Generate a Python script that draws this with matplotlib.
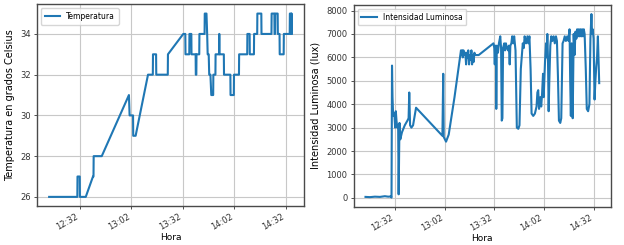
import numpy as np
import pandas as pd
import matplotlib
matplotlib.use("Agg")
import matplotlib.pyplot as plt
import matplotlib.dates as mdates

# ---- data (minutes after 12:00) ----
temp_minutes = [14.2, 30.6, 30.7, 32.0, 32.1, 35.5, 39.7, 40.0, 40.1, 44.8,
                60.6, 61.0, 63.0, 63.1, 64.5, 71.7, 74.5, 74.6, 76.4, 76.5,
                83.2, 83.3, 92.2, 93.4, 93.5, 95.7, 95.8, 96.9, 97.0, 99.4,
                99.5, 99.8, 99.9, 101.5, 101.6, 104.6, 104.7, 105.7, 106.1, 106.4,
                107.0, 107.3, 108.0, 108.5, 108.6, 109.6, 109.7, 110.9, 111.0, 113.0,
                113.1, 113.2, 113.3, 115.8, 115.9, 119.6, 119.7, 121.6, 121.7, 124.6,
                124.7, 129.4, 129.5, 130.8, 130.9, 133.3, 133.4, 135.2, 135.3, 137.6,
                137.7, 143.5, 143.6, 145.2, 145.3, 145.6, 145.7, 147.1, 147.2, 148.2,
                148.3, 150.6, 150.7, 154.1, 154.2, 154.9, 155.0, 155.2, 155.3]
temp_values = [26, 26, 27, 27, 26, 26, 27, 27, 28, 28,
               31, 30, 30, 29, 29, 32, 32, 33, 33, 32,
               32, 33, 34, 34, 33, 33, 34, 34, 33, 33,
               32, 32, 33, 33, 34, 34, 35, 35, 34, 33,
               33, 32, 32, 31, 31, 31, 32, 32, 33, 33,
               34, 34, 33, 33, 32, 32, 31, 31, 32, 32,
               33, 33, 34, 34, 33, 33, 34, 34, 35, 35,
               34, 34, 35, 35, 34, 34, 35, 35, 34, 34,
               33, 33, 34, 34, 35, 35, 34, 35, 34]

lux_minutes = [14.3, 17, 20, 23, 26, 28, 29.6, 30.0, 30.3, 30.6,
               30.9, 31.3, 31.7, 32.2, 32.6, 33.0, 33.5, 34.0, 34.3, 34.8,
               35.3, 36.3, 38.0, 39.6, 40.3, 40.7, 41.2, 42.0, 43.0, 44.8,
               60.7, 61.2, 61.5, 62.9, 64.5, 68.0, 71.9, 72.3, 72.7, 73.0,
               73.4, 73.8, 74.5, 75.0, 75.4, 75.8, 76.3, 76.8, 77.2, 77.7,
               78.2, 78.6, 79.0, 79.5, 80.0, 80.5, 82.6, 91.5, 92.0, 92.3,
               92.6, 93.0, 93.2, 93.5, 94.2, 94.8, 95.6, 96.1, 96.5, 96.9,
               97.3, 98.0, 98.5, 99.0, 99.6, 100.3, 100.8, 101.3, 101.7, 102.3,
               102.8, 103.4, 104.0, 104.8, 105.6, 106.5, 107.2, 108.0, 109.2, 109.8,
               110.3, 111.2, 112.0, 112.6, 113.2, 113.9, 114.5, 115.5, 116.5, 117.5,
               118.0, 118.5, 119.0, 119.8, 120.3, 120.8, 121.4, 121.8, 122.6, 123.2,
               123.6, 124.0, 124.4, 124.8, 125.2, 125.8, 126.4, 127.0, 127.8, 128.5,
               129.2, 129.8, 130.4, 131.0, 131.8, 132.4, 133.2, 133.8, 134.5, 135.2,
               136.0, 136.8, 137.4, 137.8, 138.2, 138.7, 139.3, 139.9, 140.4, 141.0,
               141.5, 142.0, 142.5, 143.0, 143.5, 144.0, 144.5, 145.0, 145.5, 146.0,
               146.5, 147.2, 147.8, 148.6, 149.4, 150.0, 150.6, 151.0, 151.4, 151.9,
               152.5, 153.0, 153.5, 154.0, 154.5, 155.3]
lux_values = [40, 30, 50, 40, 70, 50, 60, 10, 5650, 4300,
              3700, 3500, 3600, 3000, 3700, 3300, 3000, 3100, 150, 3200,
              2500, 2800, 3100, 3300, 3400, 4500, 3100, 3000, 3100, 3850,
              2650, 5300, 2600, 2400, 2700, 4300, 6300, 6100, 6300, 6000,
              6300, 6100, 6200, 5700, 6200, 6000, 6300, 5700, 6100, 5900,
              6300, 5700, 6100, 5800, 6200, 6100, 6100, 6600, 6400, 5700,
              6500, 6400, 3800, 6500, 6200, 6600, 6900, 6400, 3300, 3400,
              6400, 6600, 6300, 6600, 6400, 6300, 6500, 5700, 6500, 6600,
              6900, 6600, 6900, 6300, 3000, 2950, 3100, 5500, 6600, 6400,
              6900, 6600, 6900, 6600, 6900, 5500, 3600, 3500, 3600, 3900,
              4500, 4600, 3800, 4300, 3900, 4400, 5300, 4300, 5800, 6600,
              6000, 7000, 5900, 3700, 5000, 6500, 6900, 6700, 6900, 6600,
              6900, 6700, 5200, 3300, 3200, 3400, 6600, 6700, 6900, 6700,
              6900, 6700, 7200, 5000, 3500, 6600, 3400, 7000, 6100, 7100,
              6800, 7200, 6900, 7200, 6900, 7200, 6900, 7200, 6900, 7200,
              7000, 5500, 3800, 3700, 4000, 6800, 7850, 7000, 7200, 6800,
              4200, 5000, 5600, 6000, 6900, 4900]

tick_labels = ["12:32", "13:02", "13:32", "14:02", "14:32"]
day = "2019-01-01"

base = pd.Timestamp(day + " 12:00")
t_temp = base + pd.to_timedelta(temp_minutes, unit="m")
t_lux = base + pd.to_timedelta(lux_minutes, unit="m")
tick_pos = pd.to_datetime([day + " " + s for s in tick_labels])

plt.rcParams["font.family"] = ["DejaVu Sans"]
fig = plt.figure(figsize=(6.24, 2.45), dpi=100)

ax1 = fig.add_axes([0.0593, 0.159, 0.4277, 0.823])
ax2 = fig.add_axes([0.567, 0.156, 0.412, 0.824])

color = "#1f77b4"
ax1.plot(t_temp, temp_values, color=color, lw=1.5, label="Temperatura")
ax2.plot(t_lux, lux_values, color=color, lw=1.5, label="Intensidad Luminosa")

ax1.set_ylabel("Temperatura en grados Celsius", fontsize=7)
ax2.set_ylabel("Intensidad Luminosa (lux)", fontsize=7)
ax2.set_yticks(np.arange(0, 8001, 1000))

for ax in (ax1, ax2):
    ax.set_xticks(tick_pos)
    ax.xaxis.set_major_formatter(mdates.DateFormatter("%H:%M"))
    ax.set_xlabel("Hora", fontsize=6.5, labelpad=1)
    ax.grid(True, color="#c8c8c8", lw=0.8)
    ax.tick_params(labelsize=6, length=2.5, width=0.6, pad=2, colors="#333333")
    for lbl in ax.get_xticklabels():
        lbl.set_rotation(30)
        lbl.set_ha("right")
    for s in ax.spines.values():
        s.set_color("#4a4a4a")
        s.set_linewidth(1.0)
    ax.legend(loc="upper left", fontsize=5.5, frameon=True, borderpad=0.5,
              handlelength=2.0, fancybox=True, framealpha=0.8)

fig.savefig("out.png", dpi=100)
